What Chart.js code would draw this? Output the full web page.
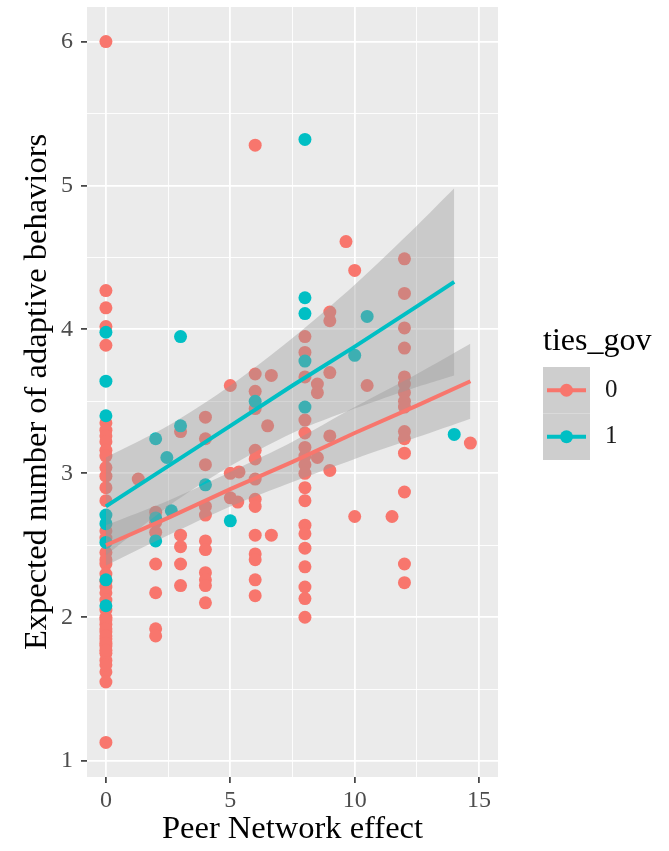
<!DOCTYPE html>
<html>
<head>
<meta charset="utf-8">
<script src="https://cdn.jsdelivr.net/npm/chart.js@4.4.1/dist/chart.umd.min.js"></script>
<style>
    html, body { margin: 0; padding: 0; background: #ffffff; }
    #wrap { width: 669px; height: 851px; position: relative; }
</style>
</head>
<body>
<div id="wrap"><canvas id="scatter_chart"></canvas></div>
<script>
// ties_gov = 0 (red)
const RED_X = [
    0, 0, 0, 0, 0, 0, 0, 0, 0, 0, 0, 0, 0, 0, 0, 0, 0, 0, 0, 0, 0,
    0, 0, 0, 0, 0, 0, 0, 0, 0, 0, 0, 0, 0, 0, 0, 0, 0, 0, 0, 0, 0,
    1.3,
    2, 2, 2, 2, 2, 2, 2,
    3, 3, 3, 3, 3,
    4, 4, 4, 4, 4, 4, 4, 4, 4, 4, 4,
    5, 5, 5, 5.35, 5.3,
    6, 6, 6, 6, 6, 6, 6, 6, 6, 6, 6, 6, 6, 6,
    6.65, 6.5, 6.65,
    8, 8, 8, 8, 8, 8, 8, 8, 8, 8, 8, 8, 8, 8, 8, 8, 8, 8,
    8.5, 8.5, 8.5, 9, 9, 9, 9, 9,
    9.65, 10, 10.5, 10, 11.5,
    12, 12, 12, 12, 12, 12, 12, 12, 12, 12, 12, 12, 12, 12, 12,
    14.65
];
const RED_Y = [
    6.0, 4.27, 4.15, 4.02, 3.89, 3.35, 3.30, 3.26, 3.22, 3.16, 3.12, 3.04, 2.98, 2.90, 2.81, 2.60, 2.45, 2.37, 2.30, 2.21, 2.17,
    2.00, 1.95, 1.90, 1.85, 1.80, 1.75, 1.70, 1.62, 1.55, 1.13, 2.55, 2.40, 2.25, 2.12, 2.05, 1.98, 1.92, 1.87, 1.82, 1.77, 1.67,
    2.96,
    2.73, 2.66, 2.59, 2.37, 2.17, 1.92, 1.87,
    3.29, 2.57, 2.49, 2.37, 2.22,
    3.39, 3.24, 3.06, 2.77, 2.71, 2.53, 2.47, 2.31, 2.26, 2.22, 2.10,
    3.61, 3.00, 2.83, 3.01, 2.80,
    5.28, 3.69, 3.57, 3.45, 3.16, 3.10, 2.96, 2.82, 2.77, 2.57, 2.44, 2.40, 2.26, 2.15,
    3.68, 3.33, 2.57,
    3.95, 3.84, 3.67, 3.37, 3.28, 3.18, 3.12, 3.06, 3.00, 2.90, 2.81, 2.64, 2.58, 2.48, 2.35, 2.21, 2.13, 2.00,
    3.62, 3.56, 3.11, 4.12, 4.06, 3.70, 3.26, 3.02,
    4.61, 4.41, 3.61, 2.70, 2.70,
    4.49, 4.25, 4.01, 3.87, 3.67, 3.62, 3.56, 3.50, 3.46, 3.29, 3.24, 3.14, 2.87, 2.37, 2.24,
    3.21
];

// ties_gov = 1 (teal)
const TEAL_X = [0, 0, 0, 0, 0, 0, 0, 0, 2, 2, 2, 2.45, 2.63, 3, 3, 4, 5, 6, 8, 8, 8, 8, 8, 10, 10.5, 14];
const TEAL_Y = [3.98, 3.64, 3.40, 2.71, 2.65, 2.52, 2.26, 2.08, 3.24, 2.69, 2.53, 3.11, 2.74, 3.95, 3.33, 2.92, 2.67, 3.50, 5.32, 4.22, 4.11, 3.78, 3.46, 3.82, 4.09, 3.27];

// fitted lines and confidence bands
const RED_FIT_X = [0, 2.5, 5, 7.5, 10, 12.5, 14.65];
const RED_FIT_Y = [2.50, 2.69, 2.89, 3.08, 3.28, 3.47, 3.64];
const RED_UPPER = [2.64, 2.81, 3.01, 3.22, 3.46, 3.69, 3.90];
const RED_LOWER = [2.36, 2.57, 2.77, 2.94, 3.10, 3.25, 3.38];

const TEAL_FIT_X = [0, 2.5, 5, 7.5, 10, 12.5, 14];
const TEAL_FIT_Y = [2.77, 3.05, 3.33, 3.61, 3.88, 4.16, 4.33];
const TEAL_UPPER = [3.11, 3.33, 3.61, 3.94, 4.31, 4.72, 4.98];
const TEAL_LOWER = [2.43, 2.77, 3.05, 3.28, 3.45, 3.60, 3.68];

const X_TICKS = [0, 2.5, 5, 7.5, 10, 12.5, 15];
const Y_TICKS = [1, 1.5, 2, 2.5, 3, 3.5, 4, 4.5, 5, 5.5, 6];

const LEGEND_TITLE = "ties_gov";
const LEGEND_LABELS = ["0", "1"];

const RED = "#F8766D";
const TEAL = "#00BFC4";
const BAND = "rgba(153, 153, 153, 0.4)";
const SERIF = "'Liberation Serif', 'DejaVu Serif', serif";

function toPoints(xs, ys) {
    return xs.map((x, i) => ({ x: x, y: ys[i] }));
}

function isMajorX(v) {
    return v % 5 === 0;
}

function isMajorY(v) {
    return Number.isInteger(v);
}

const panelBackground = {
    id: "panelBackground",
    beforeDraw(chart) {
        const { ctx, chartArea } = chart;
        ctx.save();
        ctx.fillStyle = "#EBEBEB";
        ctx.fillRect(chartArea.left, chartArea.top, chartArea.right - chartArea.left, chartArea.bottom - chartArea.top);
        ctx.restore();
    }
};

const sideLegend = {
    id: "sideLegend",
    afterDraw(chart) {
        const ctx = chart.ctx;
        const colors = [RED, TEAL];
        const left = 543;
        const keyW = 47;
        const keyH = 46.5;
        const top = 367;

        ctx.save();
        ctx.fillStyle = "#000000";
        ctx.font = "32px " + SERIF;
        ctx.textAlign = "left";
        ctx.textBaseline = "middle";
        ctx.fillText(LEGEND_TITLE, left, 342);

        LEGEND_LABELS.forEach((label, i) => {
            const y0 = top + i * keyH;
            const cy = y0 + keyH / 2;

            ctx.fillStyle = "#F2F2F2";
            ctx.fillRect(left, y0, keyW, keyH);
            ctx.fillStyle = BAND;
            ctx.fillRect(left, y0, keyW, keyH);

            ctx.strokeStyle = colors[i];
            ctx.lineWidth = 4;
            ctx.beginPath();
            ctx.moveTo(left + 4, cy);
            ctx.lineTo(left + keyW - 4, cy);
            ctx.stroke();

            ctx.fillStyle = colors[i];
            ctx.beginPath();
            ctx.arc(left + keyW / 2, cy, 6.5, 0, Math.PI * 2);
            ctx.fill();

            ctx.fillStyle = "#1a1a1a";
            ctx.font = "25px " + SERIF;
            ctx.fillText(label, 605, cy);
        });
        ctx.restore();
    }
};

function lineSet(xs, ys, color, extra) {
    return Object.assign({
        type: "line",
        data: toPoints(xs, ys),
        borderColor: color,
        borderWidth: 4,
        pointRadius: 0,
        fill: false,
        tension: 0,
        order: 0
    }, extra || {});
}

function bandSet(xs, ys, fillTarget) {
    return {
        type: "line",
        data: toPoints(xs, ys),
        borderColor: "rgba(0, 0, 0, 0)",
        borderWidth: 0,
        pointRadius: 0,
        backgroundColor: BAND,
        fill: fillTarget,
        tension: 0.3,
        order: 1
    };
}

function createScatterChart() {
    const canvas = document.getElementById("scatter_chart");

    new Chart(canvas, {
        type: "scatter",

        data: {
            datasets: [
                lineSet(TEAL_FIT_X, TEAL_FIT_Y, TEAL),
                lineSet(RED_FIT_X, RED_FIT_Y, RED),
                bandSet(TEAL_FIT_X, TEAL_UPPER, 3),
                bandSet(TEAL_FIT_X, TEAL_LOWER, false),
                bandSet(RED_FIT_X, RED_UPPER, 5),
                bandSet(RED_FIT_X, RED_LOWER, false),
                {
                    label: "1",
                    data: toPoints(TEAL_X, TEAL_Y),
                    backgroundColor: TEAL,
                    borderWidth: 0,
                    pointRadius: 6.5,
                    order: 2
                },
                {
                    label: "0",
                    data: toPoints(RED_X, RED_Y),
                    backgroundColor: RED,
                    borderWidth: 0,
                    pointRadius: 6.5,
                    order: 3
                }
            ]
        },

        options: {
            responsive: true,
            maintainAspectRatio: false,
            animation: false,

            layout: {
                padding: { top: 7, right: 171, left: 0, bottom: 0 }
            },

            scales: {
                x: {
                    type: "linear",
                    min: -0.76,
                    max: 15.76,
                    afterBuildTicks: scale => {
                        scale.ticks = X_TICKS.map(v => ({ value: v }));
                    },
                    afterFit: scale => {
                        scale.height = 74;
                        scale.paddingLeft = 0;
                        scale.paddingRight = 0;
                    },
                    title: {
                        display: true,
                        text: "Peer Network effect",
                        color: "#000000",
                        padding: { top: 0, bottom: 2 },
                        font: { family: SERIF, size: 32.5 }
                    },
                    grid: {
                        color: "#FFFFFF",
                        lineWidth: ctx => (isMajorX(ctx.tick.value) ? 1.8 : 0.9),
                        tickColor: ctx => (isMajorX(ctx.tick.value) ? "#333333" : "rgba(0,0,0,0)"),
                        tickWidth: 1.6,
                        tickLength: 6
                    },
                    ticks: {
                        color: "#4D4D4D",
                        padding: 3,
                        maxRotation: 0,
                        autoSkip: false,
                        font: { family: SERIF, size: 24 },
                        callback: value => (isMajorX(value) ? String(value) : "")
                    },
                    border: { display: false }
                },

                y: {
                    type: "linear",
                    min: 0.89,
                    max: 6.24,
                    afterBuildTicks: scale => {
                        scale.ticks = Y_TICKS.map(v => ({ value: v }));
                    },
                    afterFit: scale => {
                        scale.width = 87;
                        scale.paddingTop = 0;
                        scale.paddingBottom = 0;
                    },
                    title: {
                        display: true,
                        text: "Expected number of adaptive behaviors",
                        color: "#000000",
                        padding: { top: 18, bottom: 0 },
                        font: { family: SERIF, size: 32.5 }
                    },
                    grid: {
                        color: "#FFFFFF",
                        lineWidth: ctx => (isMajorY(ctx.tick.value) ? 1.8 : 0.9),
                        tickColor: ctx => (isMajorY(ctx.tick.value) ? "#333333" : "rgba(0,0,0,0)"),
                        tickWidth: 1.6,
                        tickLength: 6
                    },
                    ticks: {
                        color: "#4D4D4D",
                        padding: 8,
                        autoSkip: false,
                        font: { family: SERIF, size: 24 },
                        callback: value => (isMajorY(value) ? String(value) : "")
                    },
                    border: { display: false }
                }
            },

            plugins: {
                legend: { display: false },
                tooltip: { enabled: false }
            }
        },

        plugins: [panelBackground, sideLegend]
    });
}

createScatterChart();
</script>
</body>
</html>
